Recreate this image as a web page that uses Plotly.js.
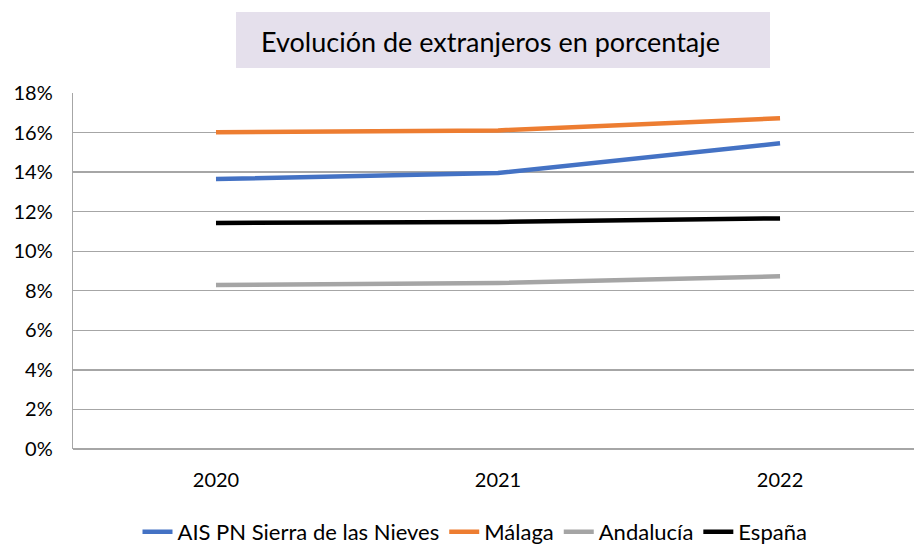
<!DOCTYPE html>
<html>
<head>
<meta charset="utf-8">
<script src="https://cdn.plot.ly/plotly-3.0.1.min.js"></script>
<style>html,body{margin:0;padding:0;background:#fff;}#chart{width:914px;height:544px;}</style>
</head>
<body>
<div id="chart"></div>
<script>
const years = ["2020", "2021", "2022"];
const seriesNames = ["AIS PN Sierra de las Nieves", "Málaga", "Andalucía", "España"];
const aisValues = [0.1365, 0.1395, 0.1546];
const malagaValues = [0.1601, 0.1611, 0.1672];
const andaluciaValues = [0.0829, 0.0839, 0.0873];
const espanaValues = [0.1143, 0.1148, 0.1166];
const yTicks = [0, 0.02, 0.04, 0.06, 0.08, 0.10, 0.12, 0.14, 0.16, 0.18];
const colors = ["#4472C4", "#ED7D31", "#A5A5A5", "#000000"];
const allValues = [aisValues, malagaValues, andaluciaValues, espanaValues];

const FONT = "Lato, 'Open Sans', sans-serif";
const PL = 73, PW = 841, PB = 449, PH = 356;
const px = x => (x - PL) / PW;
const py = y => (PB - y) / PH;

const traces = allValues.map((vals, i) => ({
  x: years,
  y: vals,
  name: seriesNames[i],
  type: "scatter",
  mode: "lines",
  line: {color: colors[i], width: 4.5},
  hoverinfo: "skip"
}));

const layout = {
  width: 914,
  height: 544,
  margin: {l: 73, r: 0, t: 93, b: 95, pad: 0, autoexpand: false},
  paper_bgcolor: "#ffffff",
  plot_bgcolor: "#ffffff",
  font: {family: FONT, size: 20, color: "#000000"},
  showlegend: true,
  xaxis: {
    type: "category",
    range: [-0.507, 2.475],
    showgrid: false,
    zeroline: false,
    showline: false,
    ticks: "outside",
    ticklen: 13,
    tickcolor: "rgba(0,0,0,0)",
    tickfont: {family: FONT, size: 20, color: "#000"},
    fixedrange: true
  },
  yaxis: {
    range: [0, 0.18],
    tickvals: yTicks,
    tickformat: ".0%",
    showgrid: true,
    gridcolor: "#A6A6A6",
    gridwidth: 1.3,
    zeroline: true,
    zerolinecolor: "#A6A6A6",
    zerolinewidth: 1.3,
    showline: true,
    linecolor: "#A6A6A6",
    linewidth: 1.3,
    mirror: false,
    ticks: "outside",
    ticklen: 15,
    tickcolor: "rgba(0,0,0,0)",
    tickfont: {family: FONT, size: 20, color: "#000"},
    fixedrange: true
  },
  legend: {
    orientation: "h",
    x: 0.478,
    xanchor: "center",
    y: -0.233,
    yanchor: "middle",
    font: {family: FONT, size: 22, color: "#000"},
    bgcolor: "rgba(0,0,0,0)",
    itemwidth: 30,
    tracegroupgap: 0
  },
  shapes: [{
    type: "rect", xref: "paper", yref: "paper", layer: "below",
    x0: px(236), x1: px(770), y0: py(68), y1: py(12),
    fillcolor: "#E5E0EC", line: {width: 0}
  }],
  annotations: [{
    xref: "paper", yref: "paper",
    x: px(490), y: py(41),
    xanchor: "center", yanchor: "middle",
    text: "Evolución de extranjeros en porcentaje",
    showarrow: false,
    font: {family: FONT, size: 27, color: "#000"}
  }]
};

Plotly.newPlot("chart", traces, layout, {displayModeBar: false, staticPlot: true});
</script>
</body>
</html>
